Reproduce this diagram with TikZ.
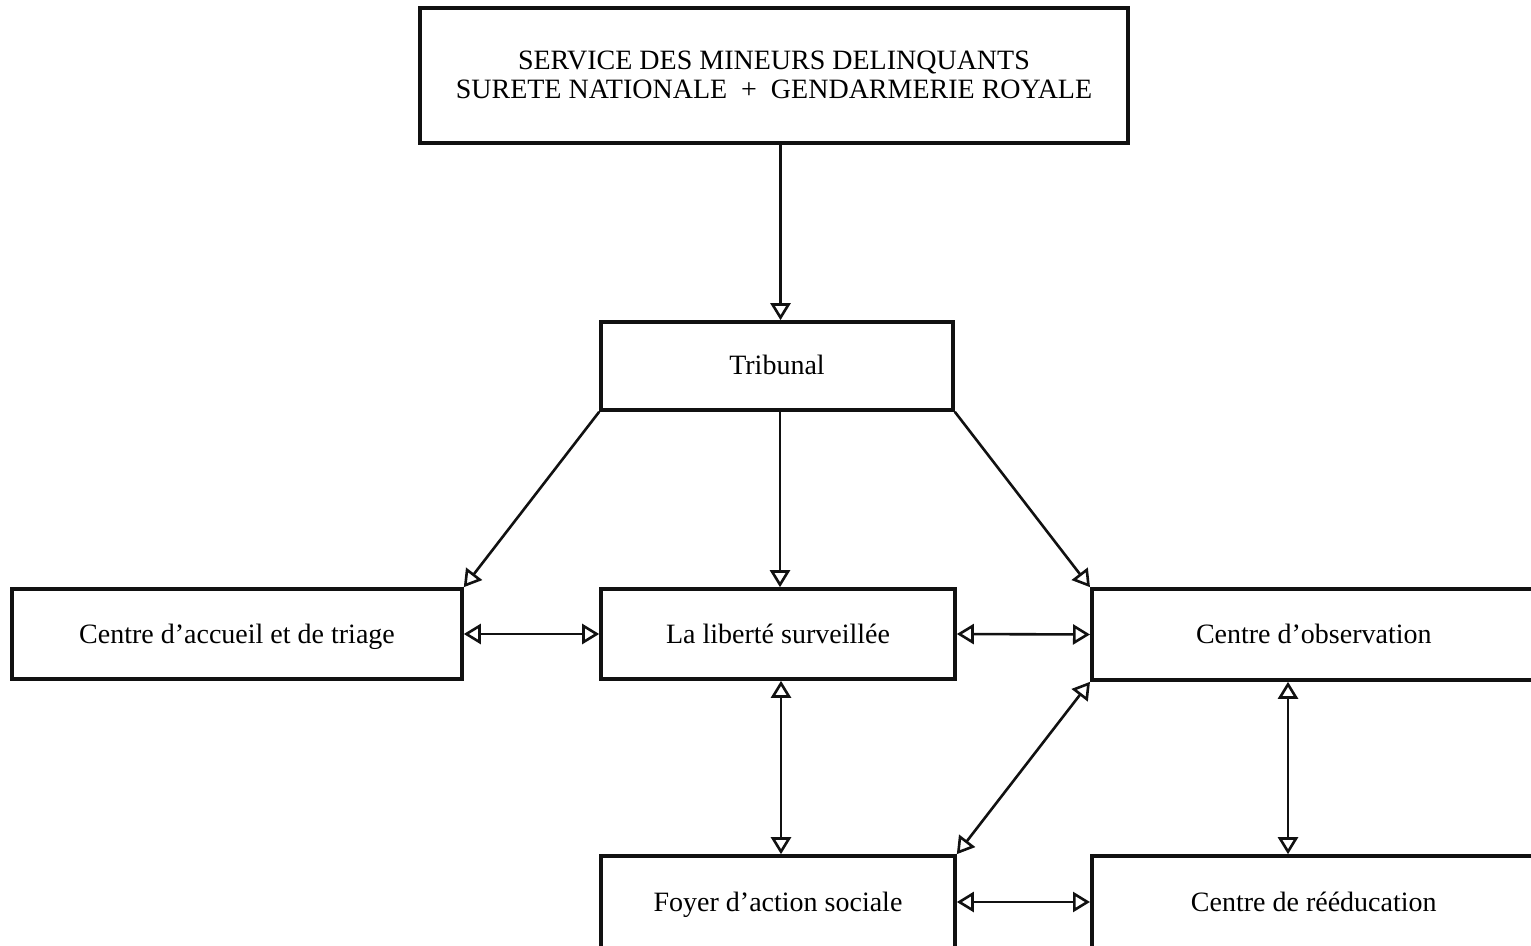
\documentclass[tikz,border=0pt]{standalone}
\usepackage{fontspec}
\setmainfont{Liberation Serif}
\usepackage{xcolor}
\definecolor{cInk}{HTML}{111111}
\usetikzlibrary{positioning,arrows.meta}
\tikzset{
  box-main/.style={draw=cInk,line width=1.8pt,inner sep=0pt,align=center,
    text height=9pt,text depth=0pt,font=\fontsize{14}{14.5}\selectfont},
  arrow/.style={-{Triangle[open,length=8.5pt,width=10pt]},line width=1.3pt,draw=cInk},
  arrow-both/.style={{Triangle[open,length=8.5pt,width=10pt]}-{Triangle[open,length=8.5pt,width=10pt]},
    line width=1.3pt,draw=cInk},
}

\begin{document}
\begin{tikzpicture}[x=0.5pt,y=-0.5pt]
  \useasboundingbox (0,0) rectangle (1531,946);
  % services
  \node[box-main,text height=23.5pt,minimum width=354pt,minimum height=67.5pt] (smd) at (774,75.5)
    {SERVICE DES MINEURS DELINQUANTS\\SURETE NATIONALE \ + \ GENDARMERIE ROYALE};
  \node[box-main,minimum width=176pt,minimum height=44pt] (trib) at (777,366) {Tribunal};
  % placements
  \node[box-main,minimum width=225pt,minimum height=45pt] (accueil) at (237,634)
    {Centre d’accueil et de triage};
  \node[box-main,minimum width=177pt,minimum height=45pt] (liberte) at (778,634)
    {La liberté surveillée};
  \node[box-main,minimum width=230pt,minimum height=45.5pt,anchor=west] (observ) at (1090,634.5)
    {\hspace*{-4pt}Centre d’observation\hspace*{4pt}};
  \node[box-main,minimum width=177pt,minimum height=46pt] (foyer) at (778,902)
    {Foyer d’action sociale};
  \node[box-main,minimum width=230pt,minimum height=46pt,anchor=west] (reeduc) at (1090,902)
    {\hspace*{-4pt}Centre de rééducation\hspace*{4pt}};
  % liaisons
  \draw[arrow] (smd.south -| trib.north) ++(3.5,0) coordinate (c1) -- (c1 |- trib.north);
  \draw[arrow] (trib.south west) -- (accueil.north east);
  \draw[arrow] (trib.south) ++(3,0) coordinate (c2) -- (c2 |- liberte.north);
  \draw[arrow] (trib.south east) -- (observ.north west);
  \draw[arrow-both] (accueil.east) -- (liberte.west);
  \draw[arrow-both] (liberte.east) -- (observ.west);
  \draw[arrow-both] (liberte.south) ++(3,0) coordinate (c3) -- (c3 |- foyer.north);
  \draw[arrow-both] (observ.south west) -- (foyer.north east);
  \draw[arrow-both] (1288,0 |- observ.south) coordinate (c4) -- (c4 |- reeduc.north);
  \draw[arrow-both] (foyer.east) -- (reeduc.west);
\end{tikzpicture}
\end{document}
